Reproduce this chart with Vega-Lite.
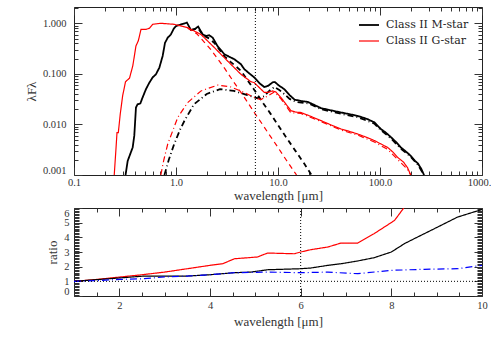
{
  "$schema": "https://vega.github.io/schema/vega-lite/v6.json",
  "padding": {"left": 24, "top": 2, "right": 8, "bottom": 5},
  "spacing": 0,
  "resolve": {"scale": {"color": "independent", "strokeDash": "independent", "strokeWidth": "independent"}, "legend": {"color": "independent", "strokeDash": "independent", "strokeWidth": "independent"}},
  "config": {
    "view": {"stroke": "#222", "strokeWidth": 1},
    "axis": {"labelFont": "Liberation Serif", "labelFontSize": 10.5, "labelColor": "#333", "titleFont": "Liberation Serif", "titleFontSize": 13, "titleFontWeight": "normal", "titleColor": "#333", "tickColor": "#333", "domain": false, "grid": false, "minExtent": 0, "labelOverlap": false}
  },
  "datasets": {
    "sed": [
      {"star": "Class II M-star", "comp": "total", "wl": 0.32, "f": 0.001},
      {"star": "Class II M-star", "comp": "total", "wl": 0.336, "f": 0.0019},
      {"star": "Class II M-star", "comp": "total", "wl": 0.376, "f": 0.0035},
      {"star": "Class II M-star", "comp": "total", "wl": 0.39, "f": 0.006},
      {"star": "Class II M-star", "comp": "total", "wl": 0.405, "f": 0.0216},
      {"star": "Class II M-star", "comp": "total", "wl": 0.42, "f": 0.025},
      {"star": "Class II M-star", "comp": "total", "wl": 0.447, "f": 0.026},
      {"star": "Class II M-star", "comp": "total", "wl": 0.47, "f": 0.034},
      {"star": "Class II M-star", "comp": "total", "wl": 0.508, "f": 0.05},
      {"star": "Class II M-star", "comp": "total", "wl": 0.548, "f": 0.067},
      {"star": "Class II M-star", "comp": "total", "wl": 0.59, "f": 0.085},
      {"star": "Class II M-star", "comp": "total", "wl": 0.636, "f": 0.098},
      {"star": "Class II M-star", "comp": "total", "wl": 0.687, "f": 0.133},
      {"star": "Class II M-star", "comp": "total", "wl": 0.74, "f": 0.226},
      {"star": "Class II M-star", "comp": "total", "wl": 0.78, "f": 0.41},
      {"star": "Class II M-star", "comp": "total", "wl": 0.83, "f": 0.52},
      {"star": "Class II M-star", "comp": "total", "wl": 0.89, "f": 0.6},
      {"star": "Class II M-star", "comp": "total", "wl": 0.95, "f": 0.78},
      {"star": "Class II M-star", "comp": "total", "wl": 1.0, "f": 0.88},
      {"star": "Class II M-star", "comp": "total", "wl": 1.12, "f": 0.95},
      {"star": "Class II M-star", "comp": "total", "wl": 1.28, "f": 1.03},
      {"star": "Class II M-star", "comp": "total", "wl": 1.4, "f": 0.74},
      {"star": "Class II M-star", "comp": "total", "wl": 1.51, "f": 0.76},
      {"star": "Class II M-star", "comp": "total", "wl": 1.65, "f": 0.86},
      {"star": "Class II M-star", "comp": "total", "wl": 1.83, "f": 0.6},
      {"star": "Class II M-star", "comp": "total", "wl": 1.97, "f": 0.56},
      {"star": "Class II M-star", "comp": "total", "wl": 2.12, "f": 0.58},
      {"star": "Class II M-star", "comp": "total", "wl": 2.29, "f": 0.52},
      {"star": "Class II M-star", "comp": "total", "wl": 2.56, "f": 0.35},
      {"star": "Class II M-star", "comp": "total", "wl": 2.98, "f": 0.245},
      {"star": "Class II M-star", "comp": "total", "wl": 3.3, "f": 0.22},
      {"star": "Class II M-star", "comp": "total", "wl": 3.73, "f": 0.195},
      {"star": "Class II M-star", "comp": "total", "wl": 4.33, "f": 0.155},
      {"star": "Class II M-star", "comp": "total", "wl": 4.67, "f": 0.124},
      {"star": "Class II M-star", "comp": "total", "wl": 5.3, "f": 0.1},
      {"star": "Class II M-star", "comp": "total", "wl": 5.85, "f": 0.085},
      {"star": "Class II M-star", "comp": "total", "wl": 6.6, "f": 0.065},
      {"star": "Class II M-star", "comp": "total", "wl": 7.33, "f": 0.055},
      {"star": "Class II M-star", "comp": "total", "wl": 8.0, "f": 0.058},
      {"star": "Class II M-star", "comp": "total", "wl": 8.87, "f": 0.068},
      {"star": "Class II M-star", "comp": "total", "wl": 9.3, "f": 0.069},
      {"star": "Class II M-star", "comp": "total", "wl": 10.3, "f": 0.058},
      {"star": "Class II M-star", "comp": "total", "wl": 11.5, "f": 0.05},
      {"star": "Class II M-star", "comp": "total", "wl": 13, "f": 0.038},
      {"star": "Class II M-star", "comp": "total", "wl": 14.5, "f": 0.031},
      {"star": "Class II M-star", "comp": "total", "wl": 17, "f": 0.029},
      {"star": "Class II M-star", "comp": "total", "wl": 19.5, "f": 0.028},
      {"star": "Class II M-star", "comp": "total", "wl": 23, "f": 0.024},
      {"star": "Class II M-star", "comp": "total", "wl": 26.4, "f": 0.021},
      {"star": "Class II M-star", "comp": "total", "wl": 33, "f": 0.019},
      {"star": "Class II M-star", "comp": "total", "wl": 41.7, "f": 0.0172},
      {"star": "Class II M-star", "comp": "total", "wl": 50, "f": 0.016},
      {"star": "Class II M-star", "comp": "total", "wl": 60, "f": 0.0148},
      {"star": "Class II M-star", "comp": "total", "wl": 75, "f": 0.0128},
      {"star": "Class II M-star", "comp": "total", "wl": 88, "f": 0.011},
      {"star": "Class II M-star", "comp": "total", "wl": 102, "f": 0.0081},
      {"star": "Class II M-star", "comp": "total", "wl": 115, "f": 0.0068},
      {"star": "Class II M-star", "comp": "total", "wl": 128, "f": 0.0056},
      {"star": "Class II M-star", "comp": "total", "wl": 145, "f": 0.0044},
      {"star": "Class II M-star", "comp": "total", "wl": 160, "f": 0.0035},
      {"star": "Class II M-star", "comp": "total", "wl": 180, "f": 0.0029},
      {"star": "Class II M-star", "comp": "total", "wl": 200, "f": 0.0024},
      {"star": "Class II M-star", "comp": "total", "wl": 220, "f": 0.0019},
      {"star": "Class II M-star", "comp": "total", "wl": 235, "f": 0.0017},
      {"star": "Class II M-star", "comp": "total", "wl": 255, "f": 0.0013},
      {"star": "Class II M-star", "comp": "total", "wl": 270, "f": 0.001},
      {"star": "Class II M-star", "comp": "photosphere", "wl": 1.4, "f": 0.73},
      {"star": "Class II M-star", "comp": "photosphere", "wl": 1.65, "f": 0.8},
      {"star": "Class II M-star", "comp": "photosphere", "wl": 1.83, "f": 0.58},
      {"star": "Class II M-star", "comp": "photosphere", "wl": 2.12, "f": 0.5},
      {"star": "Class II M-star", "comp": "photosphere", "wl": 2.4, "f": 0.4},
      {"star": "Class II M-star", "comp": "photosphere", "wl": 2.7, "f": 0.29},
      {"star": "Class II M-star", "comp": "photosphere", "wl": 3.0, "f": 0.22},
      {"star": "Class II M-star", "comp": "photosphere", "wl": 3.4, "f": 0.175},
      {"star": "Class II M-star", "comp": "photosphere", "wl": 3.73, "f": 0.15},
      {"star": "Class II M-star", "comp": "photosphere", "wl": 4.33, "f": 0.115},
      {"star": "Class II M-star", "comp": "photosphere", "wl": 5.0, "f": 0.076},
      {"star": "Class II M-star", "comp": "photosphere", "wl": 6.0, "f": 0.045},
      {"star": "Class II M-star", "comp": "photosphere", "wl": 7.0, "f": 0.028},
      {"star": "Class II M-star", "comp": "photosphere", "wl": 8.5, "f": 0.016},
      {"star": "Class II M-star", "comp": "photosphere", "wl": 10, "f": 0.0097},
      {"star": "Class II M-star", "comp": "photosphere", "wl": 12, "f": 0.0056},
      {"star": "Class II M-star", "comp": "photosphere", "wl": 15, "f": 0.0029},
      {"star": "Class II M-star", "comp": "photosphere", "wl": 18, "f": 0.0017},
      {"star": "Class II M-star", "comp": "photosphere", "wl": 21.3, "f": 0.001},
      {"star": "Class II M-star", "comp": "disk", "wl": 0.77, "f": 0.001},
      {"star": "Class II M-star", "comp": "disk", "wl": 0.85, "f": 0.002},
      {"star": "Class II M-star", "comp": "disk", "wl": 0.96, "f": 0.0041},
      {"star": "Class II M-star", "comp": "disk", "wl": 1.1, "f": 0.008},
      {"star": "Class II M-star", "comp": "disk", "wl": 1.21, "f": 0.0118},
      {"star": "Class II M-star", "comp": "disk", "wl": 1.5, "f": 0.025},
      {"star": "Class II M-star", "comp": "disk", "wl": 2.0, "f": 0.04},
      {"star": "Class II M-star", "comp": "disk", "wl": 2.7, "f": 0.05},
      {"star": "Class II M-star", "comp": "disk", "wl": 3.7, "f": 0.046},
      {"star": "Class II M-star", "comp": "disk", "wl": 5.0, "f": 0.038},
      {"star": "Class II M-star", "comp": "disk", "wl": 6.3, "f": 0.033},
      {"star": "Class II M-star", "comp": "disk", "wl": 7.3, "f": 0.036},
      {"star": "Class II M-star", "comp": "disk", "wl": 8.3, "f": 0.047},
      {"star": "Class II M-star", "comp": "disk", "wl": 9.2, "f": 0.055},
      {"star": "Class II M-star", "comp": "disk", "wl": 10.3, "f": 0.048},
      {"star": "Class II M-star", "comp": "disk", "wl": 11.5, "f": 0.04},
      {"star": "Class II M-star", "comp": "disk", "wl": 13, "f": 0.032},
      {"star": "Class II M-star", "comp": "disk", "wl": 15, "f": 0.028},
      {"star": "Class II M-star", "comp": "disk", "wl": 20, "f": 0.026},
      {"star": "Class II M-star", "comp": "disk", "wl": 26.4, "f": 0.02},
      {"star": "Class II M-star", "comp": "disk", "wl": 41.7, "f": 0.0162},
      {"star": "Class II M-star", "comp": "disk", "wl": 60, "f": 0.014},
      {"star": "Class II M-star", "comp": "disk", "wl": 88, "f": 0.0104},
      {"star": "Class II M-star", "comp": "disk", "wl": 102, "f": 0.0077},
      {"star": "Class II M-star", "comp": "disk", "wl": 128, "f": 0.0053},
      {"star": "Class II M-star", "comp": "disk", "wl": 160, "f": 0.0033},
      {"star": "Class II M-star", "comp": "disk", "wl": 200, "f": 0.0023},
      {"star": "Class II M-star", "comp": "disk", "wl": 235, "f": 0.0016},
      {"star": "Class II M-star", "comp": "disk", "wl": 270, "f": 0.001},
      {"star": "Class II G-star", "comp": "total", "wl": 0.248, "f": 0.001},
      {"star": "Class II G-star", "comp": "total", "wl": 0.258, "f": 0.0033},
      {"star": "Class II G-star", "comp": "total", "wl": 0.264, "f": 0.0069},
      {"star": "Class II G-star", "comp": "total", "wl": 0.272, "f": 0.0069},
      {"star": "Class II G-star", "comp": "total", "wl": 0.284, "f": 0.016},
      {"star": "Class II G-star", "comp": "total", "wl": 0.3, "f": 0.037},
      {"star": "Class II G-star", "comp": "total", "wl": 0.32, "f": 0.07},
      {"star": "Class II G-star", "comp": "total", "wl": 0.35, "f": 0.082},
      {"star": "Class II G-star", "comp": "total", "wl": 0.377, "f": 0.144},
      {"star": "Class II G-star", "comp": "total", "wl": 0.405, "f": 0.357},
      {"star": "Class II G-star", "comp": "total", "wl": 0.427, "f": 0.45},
      {"star": "Class II G-star", "comp": "total", "wl": 0.454, "f": 0.76},
      {"star": "Class II G-star", "comp": "total", "wl": 0.51, "f": 0.76},
      {"star": "Class II G-star", "comp": "total", "wl": 0.55, "f": 0.8},
      {"star": "Class II G-star", "comp": "total", "wl": 0.59, "f": 0.955},
      {"star": "Class II G-star", "comp": "total", "wl": 0.71, "f": 1.0},
      {"star": "Class II G-star", "comp": "total", "wl": 0.96, "f": 0.955},
      {"star": "Class II G-star", "comp": "total", "wl": 1.3, "f": 0.82},
      {"star": "Class II G-star", "comp": "total", "wl": 1.76, "f": 0.6},
      {"star": "Class II G-star", "comp": "total", "wl": 2.38, "f": 0.33},
      {"star": "Class II G-star", "comp": "total", "wl": 3.2, "f": 0.18},
      {"star": "Class II G-star", "comp": "total", "wl": 4.33, "f": 0.098},
      {"star": "Class II G-star", "comp": "total", "wl": 5.43, "f": 0.07},
      {"star": "Class II G-star", "comp": "total", "wl": 5.85, "f": 0.067},
      {"star": "Class II G-star", "comp": "total", "wl": 7.33, "f": 0.043},
      {"star": "Class II G-star", "comp": "total", "wl": 8.0, "f": 0.043},
      {"star": "Class II G-star", "comp": "total", "wl": 8.87, "f": 0.046},
      {"star": "Class II G-star", "comp": "total", "wl": 9.5, "f": 0.044},
      {"star": "Class II G-star", "comp": "total", "wl": 10.7, "f": 0.034},
      {"star": "Class II G-star", "comp": "total", "wl": 12, "f": 0.025},
      {"star": "Class II G-star", "comp": "total", "wl": 13.4, "f": 0.0187},
      {"star": "Class II G-star", "comp": "total", "wl": 15, "f": 0.0175},
      {"star": "Class II G-star", "comp": "total", "wl": 16.8, "f": 0.0172},
      {"star": "Class II G-star", "comp": "total", "wl": 20, "f": 0.015},
      {"star": "Class II G-star", "comp": "total", "wl": 26.4, "f": 0.0119},
      {"star": "Class II G-star", "comp": "total", "wl": 33, "f": 0.0098},
      {"star": "Class II G-star", "comp": "total", "wl": 41.7, "f": 0.0081},
      {"star": "Class II G-star", "comp": "total", "wl": 50, "f": 0.0073},
      {"star": "Class II G-star", "comp": "total", "wl": 60, "f": 0.0065},
      {"star": "Class II G-star", "comp": "total", "wl": 75, "f": 0.0055},
      {"star": "Class II G-star", "comp": "total", "wl": 88, "f": 0.0048},
      {"star": "Class II G-star", "comp": "total", "wl": 100, "f": 0.0042},
      {"star": "Class II G-star", "comp": "total", "wl": 119, "f": 0.0035},
      {"star": "Class II G-star", "comp": "total", "wl": 135, "f": 0.0028},
      {"star": "Class II G-star", "comp": "total", "wl": 150, "f": 0.0022},
      {"star": "Class II G-star", "comp": "total", "wl": 170, "f": 0.0018},
      {"star": "Class II G-star", "comp": "total", "wl": 186, "f": 0.0014},
      {"star": "Class II G-star", "comp": "total", "wl": 200, "f": 0.001},
      {"star": "Class II G-star", "comp": "photosphere", "wl": 1.3, "f": 0.8},
      {"star": "Class II G-star", "comp": "photosphere", "wl": 1.6, "f": 0.62},
      {"star": "Class II G-star", "comp": "photosphere", "wl": 1.9, "f": 0.42},
      {"star": "Class II G-star", "comp": "photosphere", "wl": 2.2, "f": 0.3},
      {"star": "Class II G-star", "comp": "photosphere", "wl": 2.6, "f": 0.19},
      {"star": "Class II G-star", "comp": "photosphere", "wl": 3.0, "f": 0.128},
      {"star": "Class II G-star", "comp": "photosphere", "wl": 3.7, "f": 0.068},
      {"star": "Class II G-star", "comp": "photosphere", "wl": 4.33, "f": 0.043},
      {"star": "Class II G-star", "comp": "photosphere", "wl": 5, "f": 0.028},
      {"star": "Class II G-star", "comp": "photosphere", "wl": 6, "f": 0.016},
      {"star": "Class II G-star", "comp": "photosphere", "wl": 7, "f": 0.0102},
      {"star": "Class II G-star", "comp": "photosphere", "wl": 8.2, "f": 0.0063},
      {"star": "Class II G-star", "comp": "photosphere", "wl": 10, "f": 0.0035},
      {"star": "Class II G-star", "comp": "photosphere", "wl": 12, "f": 0.002},
      {"star": "Class II G-star", "comp": "photosphere", "wl": 15.2, "f": 0.001},
      {"star": "Class II G-star", "comp": "disk", "wl": 0.71, "f": 0.001},
      {"star": "Class II G-star", "comp": "disk", "wl": 0.76, "f": 0.002},
      {"star": "Class II G-star", "comp": "disk", "wl": 0.83, "f": 0.0041},
      {"star": "Class II G-star", "comp": "disk", "wl": 1.04, "f": 0.0137},
      {"star": "Class II G-star", "comp": "disk", "wl": 1.3, "f": 0.027},
      {"star": "Class II G-star", "comp": "disk", "wl": 1.76, "f": 0.046},
      {"star": "Class II G-star", "comp": "disk", "wl": 2.56, "f": 0.06},
      {"star": "Class II G-star", "comp": "disk", "wl": 3.46, "f": 0.055},
      {"star": "Class II G-star", "comp": "disk", "wl": 4.67, "f": 0.043},
      {"star": "Class II G-star", "comp": "disk", "wl": 5.85, "f": 0.034},
      {"star": "Class II G-star", "comp": "disk", "wl": 6.8, "f": 0.031},
      {"star": "Class II G-star", "comp": "disk", "wl": 8, "f": 0.037},
      {"star": "Class II G-star", "comp": "disk", "wl": 9.2, "f": 0.044},
      {"star": "Class II G-star", "comp": "disk", "wl": 10.7, "f": 0.032},
      {"star": "Class II G-star", "comp": "disk", "wl": 12, "f": 0.023},
      {"star": "Class II G-star", "comp": "disk", "wl": 13.4, "f": 0.017},
      {"star": "Class II G-star", "comp": "disk", "wl": 16.8, "f": 0.0165},
      {"star": "Class II G-star", "comp": "disk", "wl": 26.4, "f": 0.0114},
      {"star": "Class II G-star", "comp": "disk", "wl": 41.7, "f": 0.0077},
      {"star": "Class II G-star", "comp": "disk", "wl": 60, "f": 0.0062},
      {"star": "Class II G-star", "comp": "disk", "wl": 88, "f": 0.0045},
      {"star": "Class II G-star", "comp": "disk", "wl": 119, "f": 0.0032},
      {"star": "Class II G-star", "comp": "disk", "wl": 150, "f": 0.002},
      {"star": "Class II G-star", "comp": "disk", "wl": 186, "f": 0.0013},
      {"star": "Class II G-star", "comp": "disk", "wl": 200, "f": 0.001}
    ],
    "ratio": [
      {"series": "G", "wl": 1.0, "r": 1.0},
      {"series": "G", "wl": 1.5, "r": 1.13},
      {"series": "G", "wl": 2.0, "r": 1.29},
      {"series": "G", "wl": 2.5, "r": 1.45},
      {"series": "G", "wl": 3.0, "r": 1.63},
      {"series": "G", "wl": 3.5, "r": 1.86},
      {"series": "G", "wl": 4.0, "r": 2.09},
      {"series": "G", "wl": 4.28, "r": 2.2},
      {"series": "G", "wl": 4.54, "r": 2.54},
      {"series": "G", "wl": 5.05, "r": 2.66},
      {"series": "G", "wl": 5.27, "r": 2.93},
      {"series": "G", "wl": 5.86, "r": 2.88},
      {"series": "G", "wl": 6.0, "r": 3.0},
      {"series": "G", "wl": 6.23, "r": 3.16},
      {"series": "G", "wl": 6.6, "r": 3.34},
      {"series": "G", "wl": 6.89, "r": 3.61},
      {"series": "G", "wl": 7.26, "r": 3.61},
      {"series": "G", "wl": 7.62, "r": 4.25},
      {"series": "G", "wl": 8.07, "r": 5.15},
      {"series": "G", "wl": 8.29, "r": 6.07},
      {"series": "G", "wl": 8.4, "r": 6.6},
      {"series": "M", "wl": 1.0, "r": 1.0},
      {"series": "M", "wl": 2.0, "r": 1.23},
      {"series": "M", "wl": 2.55, "r": 1.36},
      {"series": "M", "wl": 3.5, "r": 1.36},
      {"series": "M", "wl": 4.0, "r": 1.45},
      {"series": "M", "wl": 4.54, "r": 1.59},
      {"series": "M", "wl": 4.9, "r": 1.63},
      {"series": "M", "wl": 5.27, "r": 1.79},
      {"series": "M", "wl": 6.0, "r": 1.86},
      {"series": "M", "wl": 6.23, "r": 1.91},
      {"series": "M", "wl": 6.6, "r": 2.09},
      {"series": "M", "wl": 6.89, "r": 2.2},
      {"series": "M", "wl": 7.26, "r": 2.39},
      {"series": "M", "wl": 7.62, "r": 2.61},
      {"series": "M", "wl": 8.0, "r": 3.0},
      {"series": "M", "wl": 8.29, "r": 3.57},
      {"series": "M", "wl": 8.5, "r": 3.9},
      {"series": "M", "wl": 8.95, "r": 4.59},
      {"series": "M", "wl": 9.46, "r": 5.38},
      {"series": "M", "wl": 10.0, "r": 5.9},
      {"series": "B", "wl": 1.0, "r": 1.0},
      {"series": "B", "wl": 1.5, "r": 1.05},
      {"series": "B", "wl": 2.0, "r": 1.13},
      {"series": "B", "wl": 2.55, "r": 1.18},
      {"series": "B", "wl": 3.0, "r": 1.3},
      {"series": "B", "wl": 3.5, "r": 1.36},
      {"series": "B", "wl": 4.0, "r": 1.45},
      {"series": "B", "wl": 4.54, "r": 1.59},
      {"series": "B", "wl": 5.27, "r": 1.63},
      {"series": "B", "wl": 6.0, "r": 1.59},
      {"series": "B", "wl": 6.6, "r": 1.63},
      {"series": "B", "wl": 7.26, "r": 1.52},
      {"series": "B", "wl": 8.0, "r": 1.75},
      {"series": "B", "wl": 8.73, "r": 1.82},
      {"series": "B", "wl": 9.46, "r": 1.86},
      {"series": "B", "wl": 10.0, "r": 2.09}
    ]
  },
  "vconcat": [
    {
      "width": 408,
      "height": 168,
      "layer": [
        {
          "data": {"name": "sed"},
          "mark": {"type": "line", "clip": true},
          "encoding": {
            "x": {"field": "wl", "type": "quantitative",
              "scale": {"type": "log", "domain": [0.1, 1000], "nice": false},
              "axis": {"orient": "bottom", "title": "wavelength [μm]", "titlePadding": -2, "labelFlush": false, "labelPadding": 10,
                "labelOffset": {"condition": {"test": "datum.value == 1000", "value": -3}, "value": 0},
                "values": [0.1,0.2,0.3,0.4,0.5,0.6,0.7,0.8,0.9,1,2,3,4,5,6,7,8,9,10,20,30,40,50,60,70,80,90,100,200,300,400,500,600,700,800,900,1000],
                "labelExpr": "datum.value == 0.1 ? '0.1' : datum.value == 1 ? '1.0' : datum.value == 10 ? '10.0' : datum.value == 100 ? '100.0' : datum.value == 1000 ? '1000.' : ''",
                "tickSize": {"condition": {"test": "abs(log(datum.value)/LN10 - round(log(datum.value)/LN10)) < 0.01", "value": -8}, "value": -4}}},
            "y": {"field": "f", "type": "quantitative",
              "scale": {"type": "log", "domain": [0.001, 2.1], "nice": false},
              "axis": {"orient": "left", "title": "λFλ", "titlePadding": 4, "labelFlush": true, "labelPadding": 16,
                "values": [0.001,0.002,0.003,0.004,0.005,0.006,0.007,0.008,0.009,0.01,0.02,0.03,0.04,0.05,0.06,0.07,0.08,0.09,0.1,0.2,0.3,0.4,0.5,0.6,0.7,0.8,0.9,1,2],
                "labelExpr": "abs(log(datum.value)/LN10 - round(log(datum.value)/LN10)) < 0.01 ? format(datum.value, '.3f') : ''",
                "tickSize": {"condition": {"test": "abs(log(datum.value)/LN10 - round(log(datum.value)/LN10)) < 0.01", "value": -8}, "value": -4}}},
            "color": {"field": "star", "type": "nominal",
              "scale": {"domain": ["Class II M-star", "Class II G-star"], "range": ["#000000", "#ff0000"]},
              "legend": {"orient": "none", "legendX": 284, "legendY": 7, "title": null, "symbolType": "stroke", "symbolSize": 400, "labelFont": "DejaVu Serif", "labelFontSize": 11, "labelColor": "#222", "labelOffset": 6, "rowPadding": -9, "padding": 0,
                "encode": {"symbols": {"update": {"strokeWidth": {"signal": "datum.value == 'Class II M-star' ? 2 : 1.2"}}}}}},
            "strokeWidth": {"field": "star", "type": "nominal",
              "scale": {"domain": ["Class II M-star", "Class II G-star"], "range": [1.8, 1.2]},
              "legend": null},
            "strokeDash": {"field": "comp", "type": "nominal",
              "scale": {"domain": ["total", "photosphere", "disk"], "range": [[1, 0], [5, 4], [6, 3, 1, 3]]},
              "legend": null}
          }
        },
        {
          "data": {"values": [{"wl": 6}]},
          "mark": {"type": "rule", "strokeDash": [1, 2], "color": "#000", "strokeWidth": 1},
          "encoding": {
            "x": {"field": "wl", "type": "quantitative",
              "scale": {"type": "log", "domain": [0.1, 1000], "nice": false},
              "axis": {"orient": "top", "title": null, "labels": false,
                "values": [0.1,0.2,0.3,0.4,0.5,0.6,0.7,0.8,0.9,1,2,3,4,5,6,7,8,9,10,20,30,40,50,60,70,80,90,100,200,300,400,500,600,700,800,900,1000],
                "tickSize": {"condition": {"test": "abs(log(datum.value)/LN10 - round(log(datum.value)/LN10)) < 0.01", "value": -8}, "value": -4}}},
            "y": {"datum": 0.001, "type": "quantitative",
              "scale": {"type": "log", "domain": [0.001, 2.1], "nice": false},
              "axis": {"orient": "right", "title": null, "labels": false,
                "values": [0.001,0.002,0.003,0.004,0.005,0.006,0.007,0.008,0.009,0.01,0.02,0.03,0.04,0.05,0.06,0.07,0.08,0.09,0.1,0.2,0.3,0.4,0.5,0.6,0.7,0.8,0.9,1,2],
                "tickSize": {"condition": {"test": "abs(log(datum.value)/LN10 - round(log(datum.value)/LN10)) < 0.01", "value": -8}, "value": -4}}},
            "y2": {"datum": 2.1}
          }
        }
      ]
    },
    {
      "width": 408,
      "height": 88,
      "layer": [
        {
          "data": {"name": "ratio"},
          "mark": {"type": "line", "clip": true, "strokeWidth": 1.2},
          "encoding": {
            "x": {"field": "wl", "type": "quantitative",
              "scale": {"domain": [1, 10], "nice": false, "zero": false},
              "axis": {"orient": "bottom", "title": "wavelength [μm]", "titlePadding": 1, "labelFlush": false, "labelPadding": 12,
                "values": [1,1.5,2,2.5,3,3.5,4,4.5,5,5.5,6,6.5,7,7.5,8,8.5,9,9.5,10],
                "labelExpr": "datum.value % 2 == 0 ? format(datum.value, 'd') : ''",
                "tickSize": {"condition": {"test": "datum.value % 2 == 0", "value": -8}, "value": -4}}},
            "y": {"field": "r", "type": "quantitative",
              "scale": {"domain": [0, 6], "nice": false},
              "axis": {"orient": "left", "title": "ratio", "titlePadding": 4, "labelFlush": true, "labelPadding": 13,
                "values": [0,0.1,0.2,0.3,0.4,0.5,0.6,0.7,0.8,0.9,1,1.1,1.2,1.3,1.4,1.5,1.6,1.7,1.8,1.9,2,2.1,2.2,2.3,2.4,2.5,2.6,2.7,2.8,2.9,3,3.1,3.2,3.3,3.4,3.5,3.6,3.7,3.8,3.9,4,4.1,4.2,4.3,4.4,4.5,4.6,4.7,4.8,4.9,5,5.1,5.2,5.3,5.4,5.5,5.6,5.7,5.8,5.9,6],
                "labelExpr": "abs(datum.value - round(datum.value)) < 0.01 ? format(datum.value, 'd') : ''",
                "tickSize": {"condition": {"test": "abs(datum.value - round(datum.value)) < 0.01", "value": -8}, "value": -5}}},
            "color": {"field": "series", "type": "nominal",
              "scale": {"domain": ["G", "M", "B"], "range": ["#ff0000", "#000000", "#0000ff"]}, "legend": null},
            "strokeDash": {"field": "series", "type": "nominal",
              "scale": {"domain": ["G", "M", "B"], "range": [[1, 0], [1, 0], [7, 3, 1, 3]]}, "legend": null}
          }
        },
        {
          "data": {"values": [{"wl": 6}]},
          "mark": {"type": "rule", "strokeDash": [1, 2], "color": "#000", "strokeWidth": 1},
          "encoding": {
            "x": {"field": "wl", "type": "quantitative",
              "scale": {"domain": [1, 10], "nice": false, "zero": false},
              "axis": {"orient": "top", "title": null, "labels": false,
                "values": [1,1.5,2,2.5,3,3.5,4,4.5,5,5.5,6,6.5,7,7.5,8,8.5,9,9.5,10],
                "tickSize": {"condition": {"test": "datum.value % 2 == 0", "value": -8}, "value": -4}}}
          }
        },
        {
          "data": {"values": [{"r": 1}]},
          "mark": {"type": "rule", "strokeDash": [1, 2], "color": "#000", "strokeWidth": 1},
          "encoding": {
            "y": {"field": "r", "type": "quantitative",
              "scale": {"domain": [0, 6], "nice": false},
              "axis": {"orient": "right", "title": null, "labels": false,
                "values": [0,0.1,0.2,0.3,0.4,0.5,0.6,0.7,0.8,0.9,1,1.1,1.2,1.3,1.4,1.5,1.6,1.7,1.8,1.9,2,2.1,2.2,2.3,2.4,2.5,2.6,2.7,2.8,2.9,3,3.1,3.2,3.3,3.4,3.5,3.6,3.7,3.8,3.9,4,4.1,4.2,4.3,4.4,4.5,4.6,4.7,4.8,4.9,5,5.1,5.2,5.3,5.4,5.5,5.6,5.7,5.8,5.9,6],
                "tickSize": {"condition": {"test": "abs(datum.value - round(datum.value)) < 0.01", "value": -8}, "value": -5}}}
          }
        }
      ]
    }
  ]
}
